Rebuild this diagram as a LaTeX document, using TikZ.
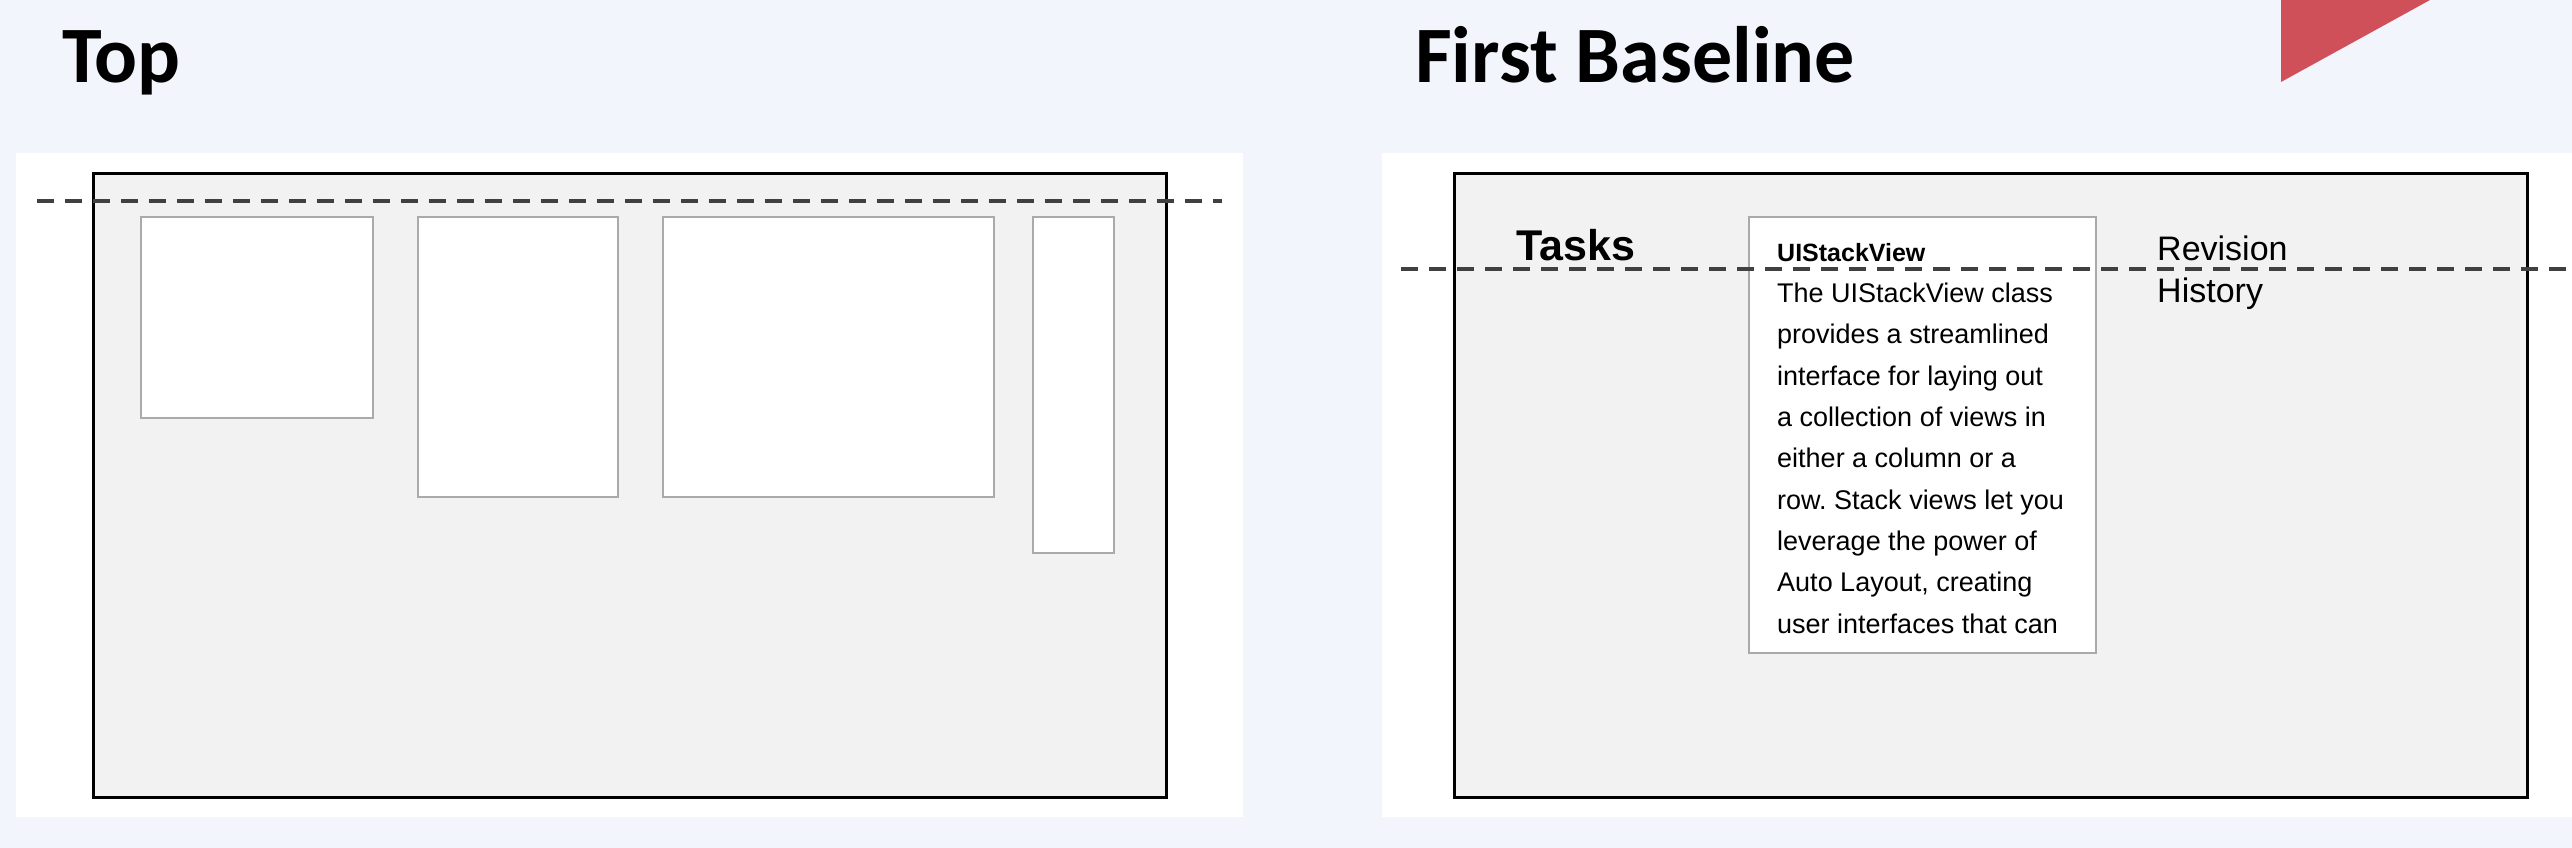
\documentclass[tikz,border=0pt]{standalone}
\usepackage{fontspec}
\setmainfont{Liberation Sans}
\newfontfamily\headfont{Carlito}
\usetikzlibrary{positioning}
\definecolor{pagebg}{RGB}{242,245,252}
\definecolor{canvasgray}{RGB}{242,242,242}
\definecolor{viewedge}{RGB}{170,170,170}
\definecolor{accentred}{RGB}{208,80,90}
\frenchspacing

\begin{document}
\begin{tikzpicture}[x=1pt, y=-1pt,
  panel/.style={fill=white, anchor=north west, inner sep=0, outer sep=0},
  canvas/.style={draw=black, line width=3pt, fill=canvasgray, anchor=north west, inner sep=0, outer sep=0},
  subview/.style={draw=viewedge, line width=1.5pt, fill=white, anchor=north west, inner sep=0, outer sep=0},
  heading/.style={font=\headfont\bfseries\fontsize{80}{90}\selectfont, anchor=base west, inner sep=0},
  guide/.style={dash pattern=on 17pt off 11pt, line width=3.5pt, black!75},
  label/.style={anchor=base west, align=left, inner sep=0}
]
  \fill[pagebg] (0,0) rectangle (2572,848);
  \useasboundingbox (0,0) rectangle (2572,848);
  \fill[accentred] (2281,0) -- (2430,0) -- (2281,82) -- cycle;

  \node[heading] (toptitle) at (62,83) {Top};
  \node[heading] (basetitle) at (1415,83) {First Baseline};

  \node[panel, minimum width=1227pt, minimum height=664pt] (leftpanel) at (16,153) {};
  \node[panel, minimum width=1190pt, minimum height=664pt] (rightpanel) at (1382,153) {};

  \node[canvas, minimum width=1073pt, minimum height=624pt] (leftcanvas) at (93,173) {};
  \node[subview, minimum width=232pt, minimum height=201pt] (viewa) at (141,217) {};
  \node[subview, minimum width=200pt, minimum height=280pt, right=45pt of viewa.north east, anchor=north west] (viewb) {};
  \node[subview, minimum width=331pt, minimum height=280pt, right=45pt of viewb.north east, anchor=north west] (viewc) {};
  \node[subview, minimum width=81pt, minimum height=336pt, right=39pt of viewc.north east, anchor=north west] (viewd) {};

  \coordinate (topstart) at (37,201);
  \coordinate (topend) at (1222,201);
  \draw[guide] (topstart) -- (topend);

  \node[canvas, minimum width=1073pt, minimum height=624pt] (rightcanvas) at (1454,173) {};
  \node[subview, minimum width=347pt, minimum height=436pt] (stackbox) at (1749,217) {};
  \node[label, font=\fontsize{27}{41.3}\selectfont] (stacktext) at (1777,633)
    {{\bfseries\fontsize{25}{41.3}\selectfont UIStackView}\\
     The UIStackView class\\
     provides a streamlined\\
     interface for laying out\\
     a collection of views in\\
     either a column or a\\
     row. Stack views let you\\
     leverage the power of\\
     Auto Layout, creating\\
     user interfaces that can};
  \node[label, font=\bfseries\fontsize{43}{50}\selectfont] (tasks) at (1516,260) {Tasks};
  \node[label, font=\fontsize{34}{42}\selectfont] (revision) at (2157,302) {Revision\\History};

  \coordinate (basestart) at (1401,269);
  \coordinate (baseend) at (2572,269);
  \draw[guide] (basestart) -- (baseend);
\end{tikzpicture}
\end{document}
